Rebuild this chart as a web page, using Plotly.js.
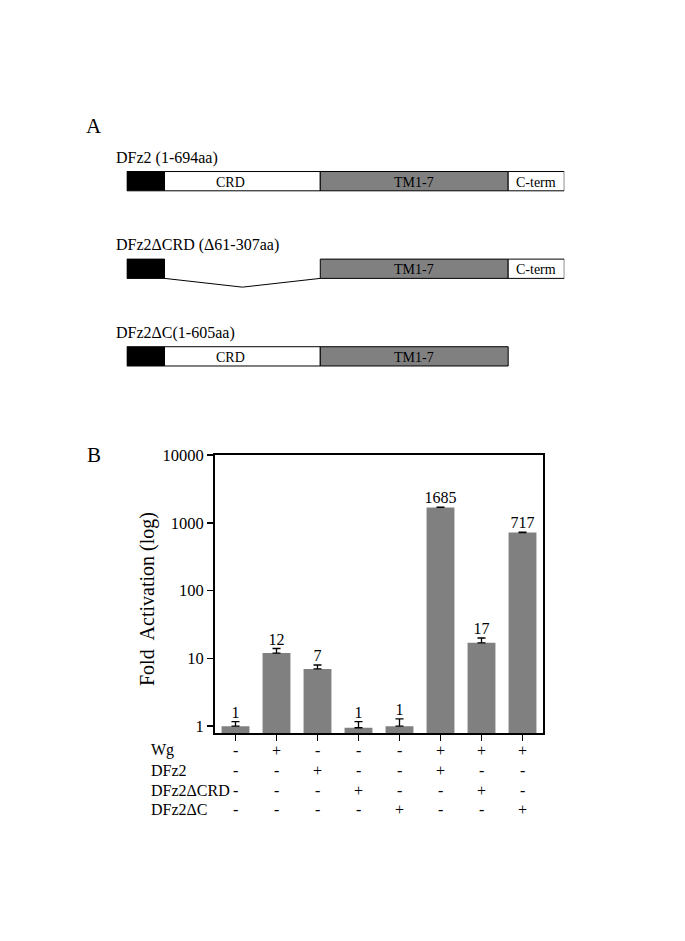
<!DOCTYPE html>
<html><head><meta charset="utf-8">
<script src="https://cdn.plot.ly/plotly-3.0.1.min.js"></script>
<style>html,body{margin:0;padding:0;background:#fff}#chart{width:685px;height:941px}</style>
</head><body><div id="chart"></div>
<script>
// ---- Panel B data ----
const lanes = [0, 1, 2, 3, 4, 5, 6, 7];
const foldActivation = [1, 12, 7, 0.95, 1, 1685, 17, 717];
const errorUp = [0.17, 2, 1, 0.22, 0.28, 20, 3, 10];
const valueLabels = ['1', '12', '7', '1', '1', '1685', '17', '717'];
const yTickVals = [1, 10, 100, 1000, 10000];
const yTickText = ['1', '10', '100', '1000', '10000'];
const rowNames = ['Wg', 'DFz2', 'DFz2ΔCRD', 'DFz2ΔC'];
const wg       = ['-', '+', '-', '-', '-', '+', '+', '+'];
const dfz2     = ['-', '-', '+', '-', '-', '+', '-', '-'];
const dfz2dCRD = ['-', '-', '-', '+', '-', '-', '+', '-'];
const dfz2dC   = ['-', '-', '-', '-', '+', '-', '-', '+'];

// ---- Panel A data (amino acid positions) ----
const constructNames = ['DFz2 (1-694aa)', 'DFz2ΔCRD (Δ61-307aa)', 'DFz2ΔC(1-605aa)'];
const segRow   = [0, 0, 0, 0, 1, 1, 1, 2, 2, 2];
const segStart = [1, 61, 308, 606, 1, 308, 606, 1, 61, 308];
const segEnd   = [60, 307, 605, 694, 60, 605, 694, 60, 307, 605];
const segKind  = ['N', 'CRD', 'TM', 'C', 'N', 'TM', 'C', 'N', 'CRD', 'TM'];
const segLabel = ['', 'CRD', 'TM1-7', 'C-term', '', 'TM1-7', 'C-term', '', 'CRD', 'TM1-7'];
const delRow = [1];
const delStart = [61];
const delEnd = [307];
const fullLength = 694;

const serif = 'Liberation Serif, Times New Roman, serif';
const kindFill = {N: '#000000', CRD: '#ffffff', TM: '#808080', C: '#ffffff'};
const halfH = 0.11;

const shapes = [];
const annotations = [];

// Panel A segments
for (let i = 0; i < segRow.length; i++) {
  shapes.push({type: 'rect', xref: 'x2', yref: 'y2',
    x0: segStart[i] - 1, x1: segEnd[i], y0: segRow[i] - halfH, y1: segRow[i] + halfH,
    fillcolor: kindFill[segKind[i]], line: {color: '#000', width: 1}});
  if (segLabel[i]) {
    annotations.push({xref: 'x2', yref: 'y2', x: (segStart[i] - 1 + segEnd[i]) / 2, y: segRow[i],
      text: segLabel[i], showarrow: false, xshift: segKind[i] === 'CRD' ? -12 : 0, yshift: -1,
      font: {family: serif, size: 14, color: '#000'}});
  }
}
for (let i = 0; i < delRow.length; i++) {
  const r = delRow[i];
  const xa = delStart[i] - 1, xb = delEnd[i], xm = (xa + xb) / 2;
  shapes.push({type: 'line', xref: 'x2', yref: 'y2', x0: xa, x1: xm, y0: r + halfH, y1: r + 0.21,
    line: {color: '#000', width: 1}});
  shapes.push({type: 'line', xref: 'x2', yref: 'y2', x0: xm, x1: xb, y0: r + 0.21, y1: r + halfH,
    line: {color: '#000', width: 1}});
}
constructNames.forEach((name, r) => {
  annotations.push({xref: 'x2', yref: 'y2', x: 0, y: r - halfH, xanchor: 'left', yanchor: 'bottom',
    xshift: -13, yshift: 3, text: name, showarrow: false,
    font: {family: serif, size: 16, color: '#000'}});
});

// Panel labels
annotations.push({xref: 'paper', yref: 'paper', x: 84 / 685, y: 1 - 126 / 941, xanchor: 'left', yanchor: 'middle',
  text: 'A', showarrow: false, font: {family: serif, size: 21, color: '#000'}});
annotations.push({xref: 'paper', yref: 'paper', x: 85 / 685, y: 1 - 455 / 941, xanchor: 'left', yanchor: 'middle',
  text: 'B', showarrow: false, font: {family: serif, size: 21, color: '#000'}});

// Y axis title
annotations.push({xref: 'paper', yref: 'paper', x: 147 / 685, y: 1 - 599 / 941, textangle: -90,
  xanchor: 'center', yanchor: 'middle',
  text: 'Fold\u00a0 Activation (log)', showarrow: false, font: {family: serif, size: 20, color: '#000'}});

// Table below panel B
const tableRows = [wg, dfz2, dfz2dCRD, dfz2dC];
const rowPix = [750, 770, 790, 809];
tableRows.forEach((row, r) => {
  annotations.push({xref: 'paper', yref: 'paper', x: 149 / 685, y: 1 - rowPix[r] / 941,
    xanchor: 'left', yanchor: 'middle', text: rowNames[r], showarrow: false,
    font: {family: serif, size: 16, color: '#000'}});
  row.forEach((s, i) => {
    annotations.push({xref: 'x', yref: 'paper', x: lanes[i], y: 1 - rowPix[r] / 941,
      xanchor: 'center', yanchor: 'middle', text: s, showarrow: false,
      font: {family: serif, size: 16, color: '#000'}});
  });
});

const traces = [
  {type: 'bar', x: lanes, y: foldActivation, xaxis: 'x', yaxis: 'y', width: 0.68,
   marker: {color: '#808080', line: {width: 0}},
   error_y: {type: 'data', symmetric: false, array: errorUp, arrayminus: errorUp.map(() => 0),
     color: '#000', thickness: 1.3, width: 4},
   hoverinfo: 'none'},
  {type: 'scatter', mode: 'text', x: lanes, y: foldActivation.map((v, i) => v + errorUp[i]),
   text: valueLabels, textposition: 'top center', xaxis: 'x', yaxis: 'y',
   textfont: {family: serif, size: 16, color: '#000'}, hoverinfo: 'none'},
  {type: 'scatter', mode: 'markers', x: [0], y: [0], xaxis: 'x2', yaxis: 'y2',
   marker: {opacity: 0}, hoverinfo: 'none'}
];

const layout = {
  width: 685, height: 941,
  margin: {l: 0, r: 0, t: 0, b: 0},
  paper_bgcolor: '#fff', plot_bgcolor: 'rgba(0,0,0,0)',
  showlegend: false,
  font: {family: serif, color: '#000'},
  xaxis: {domain: [215 / 685, 543 / 685], range: [-0.5, 7.5], tickvals: lanes, ticktext: lanes.map(() => ''),
    ticks: 'outside', ticklen: 6, tickwidth: 1.5, tickcolor: '#000', showgrid: false, zeroline: false,
    showline: true, linecolor: '#000', linewidth: 2, mirror: true, fixedrange: true},
  yaxis: {domain: [1 - 733 / 941, 1 - 455 / 941], type: 'log', range: [-0.1, 4],
    tickvals: yTickVals, ticktext: yTickText, ticks: 'outside', ticklen: 6, tickwidth: 1.5, tickcolor: '#000',
    tickfont: {family: serif, size: 16.5, color: '#000'}, showgrid: false, zeroline: false,
    showline: true, linecolor: '#000', linewidth: 2, mirror: true, fixedrange: true},
  xaxis2: {domain: [126.7 / 685, 564.3 / 685], range: [0, fullLength], visible: false, anchor: 'y2', fixedrange: true},
  yaxis2: {domain: [1 - 380 / 941, 1 - 140 / 941], range: [2.27, -0.47], visible: false, anchor: 'x2', fixedrange: true},
  shapes: shapes,
  annotations: annotations
};

Plotly.newPlot('chart', traces, layout, {displayModeBar: false, staticPlot: true});
</script>
</body></html>
